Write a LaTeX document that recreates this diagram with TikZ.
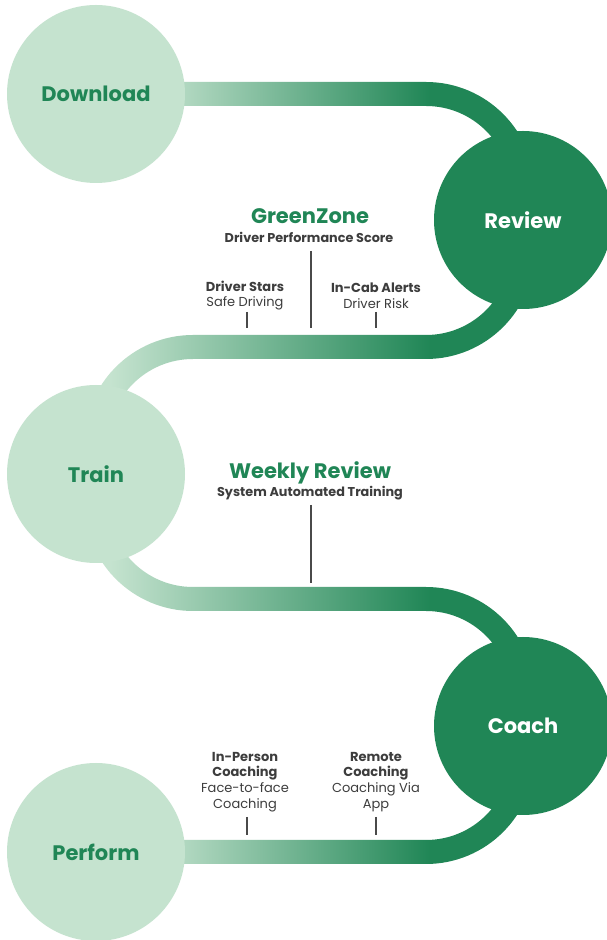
\documentclass[tikz,border=0pt]{standalone}
\usepackage{fontspec}
\setmainfont{Poppins}
\definecolor{dkgreen}{HTML}{208656}
\definecolor{ltgreen}{HTML}{C5E3CF}
\definecolor{txtgray}{HTML}{3D3D3D}
\definecolor{tickgray}{HTML}{4A4A4A}
\tikzset{
  stage/.style={circle, minimum size=178pt, inner sep=0pt, font=\fontsize{21}{24}\selectfont\bfseries},
  lightstage/.style={stage, fill=ltgreen, text=dkgreen},
  darkstage/.style={stage, fill=dkgreen, text=white},
  headline/.style={font=\fontsize{21}{24}\selectfont\bfseries, text=dkgreen, inner sep=0pt},
  subline/.style={font=\fontsize{12.8}{15}\selectfont\bfseries, text=txtgray, inner sep=0pt},
  detail/.style={align=center, font=\fontsize{13}{15.8}\selectfont, text=txtgray, inner sep=0pt},
  tick/.style={draw=tickgray, line width=1.3pt},
}
\newcommand{\gband}[4]{%
  \begin{scope}
    \clip #1;
    \fill[ltgreen] (0,#2) rectangle (#4+0.5,#3);
    \shade[left color=ltgreen,right color=dkgreen] (#4,#2) rectangle (430,#3);
    \fill[dkgreen] (429.5,#2) rectangle (607,#3);
  \end{scope}}
\begin{document}
\begin{tikzpicture}[x=1pt,y=1pt]
\useasboundingbox (0,0) rectangle (607,940);
\fill[white] (0,0) rectangle (607,940);

% bands
\gband{(96,858) -- (426,858) arc[start angle=90,end angle=0,radius=109] -- (535,720) -- (511,720) -- (511,749) arc[start angle=0,end angle=90,radius=85] -- (426,834) -- (96,834) -- cycle}{700}{870}{150}
\gband{(535,720) -- (535,690) arc[start angle=0,end angle=-90,radius=109] -- (193,581) arc[start angle=90,end angle=180,radius=85] -- (108,466) -- (84,466) -- (84,496) arc[start angle=180,end angle=90,radius=109] -- (426,605) arc[start angle=-90,end angle=0,radius=85] -- (511,720) -- cycle}{460}{725}{110}
\gband{(84,466) -- (84,438) arc[start angle=180,end angle=270,radius=109] -- (426,329) arc[start angle=90,end angle=0,radius=85] -- (511,215) -- (535,215) -- (535,244) arc[start angle=0,end angle=90,radius=109] -- (193,353) arc[start angle=270,end angle=180,radius=85] -- (108,466) -- cycle}{210}{470}{110}
\gband{(535,215) -- (535,185) arc[start angle=0,end angle=-90,radius=109] -- (96,76) -- (96,100) -- (426,100) arc[start angle=-90,end angle=0,radius=85] -- (511,215) -- cycle}{70}{220}{150}

% stages
\node[lightstage] (download) at (96,846) {Download};
\node[darkstage] (review) at (523,720) {Review};
\node[lightstage] (train) at (96,466) {Train};
\node[darkstage] (coach) at (523,214) {Coach};
\node[lightstage] (perform) at (96,88) {Perform};

% GreenZone block
\node[headline] (gz) at (310,724) {GreenZone};
\node[subline] (gzsub) at (309,703) {Driver Performance Score};
\node[detail] (stars) at (245,644.5) {\textbf{Driver Stars}\\Safe Driving};
\node[detail] (alerts) at (376,644.5) {\textbf{In-Cab Alerts}\\Driver Risk};
\coordinate (gzt) at (311,689); \coordinate (gzb) at (311,612);
\coordinate (stt) at (247,628); \coordinate (stb) at (247,612);
\coordinate (alt) at (376,628); \coordinate (alb) at (376,612);
\draw[tick] (gzt) -- (gzb);
\draw[tick] (stt) -- (stb);
\draw[tick] (alt) -- (alb);

% Weekly Review block
\node[headline] (wr) at (310,467) {Weekly Review};
\node[subline] (wrsub) at (310,447) {System Automated Training};
\coordinate (wrt) at (311,435); \coordinate (wrb) at (311,357);
\draw[tick] (wrt) -- (wrb);

% Coaching block
\node[detail] (inperson) at (245,158) {\textbf{In-Person}\\\textbf{Coaching}\\Face-to-face\\Coaching};
\node[detail] (remote) at (376,158) {\textbf{Remote}\\\textbf{Coaching}\\Coaching Via\\App};
\coordinate (ipt) at (247,123); \coordinate (ipb) at (247,105);
\coordinate (rmt) at (376,123); \coordinate (rmb) at (376,105);
\draw[tick] (ipt) -- (ipb);
\draw[tick] (rmt) -- (rmb);
\end{tikzpicture}
\end{document}
